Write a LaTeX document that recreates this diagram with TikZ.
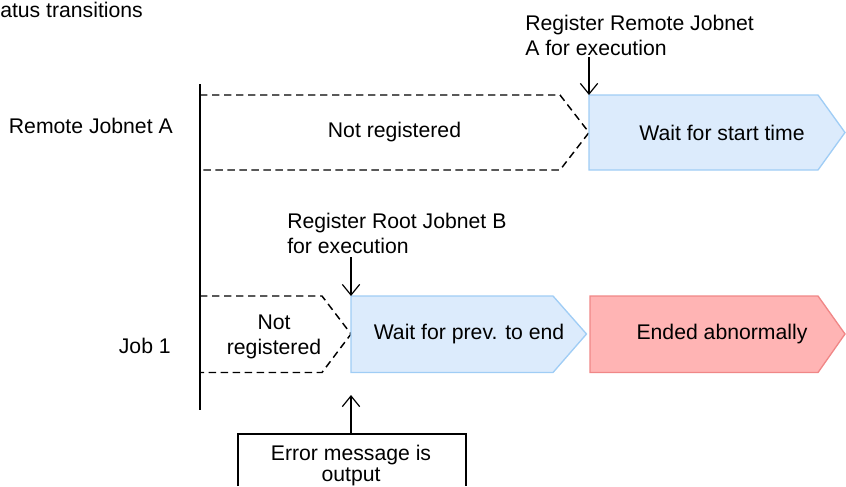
\documentclass[tikz,border=0pt]{standalone}
\usepackage{fontspec}
\setmainfont{Liberation Sans}
\usetikzlibrary{arrows.meta}
\definecolor{bfill}{RGB}{220,235,252}
\definecolor{bline}{RGB}{160,205,245}
\definecolor{rfill}{RGB}{255,180,180}
\definecolor{rline}{RGB}{240,135,135}
\begin{document}
\begin{tikzpicture}[x=0.75pt,y=-0.75pt,
  font=\fontsize{15.9}{18.75}\selectfont,
  dashbox/.style={draw=black, line width=1.1pt, dash pattern=on 5.5pt off 3.5pt},
  bluebox/.style={fill=bfill, draw=bline, line width=1pt},
  redbox/.style={fill=rfill, draw=rline, line width=1pt},
  arr/.style={-{Straight Barb[length=8pt,width=13pt]}, line width=0.9pt},
  lbl/.style={inner sep=0pt, align=center},
  axis/.style={line width=1.2pt}]
\useasboundingbox (0,0) rectangle (846,486);

% state shapes
\draw[dashbox] (200,95) -- (560,95) -- (589,132.5) -- (560,170) -- (200,170);
\draw[bluebox] (589,95) -- (818,95) -- (845,132.5) -- (818,170) -- (589,170) -- cycle;
\draw[dashbox] (200,296) -- (322,296) -- (351,334) -- (322,372.5) -- (200,372.5);
\draw[bluebox] (351,296) -- (553,296) -- (586.5,334) -- (553,372.5) -- (351,372.5) -- cycle;
\draw[redbox] (590,296) -- (818,296) -- (845,334) -- (818,372.5) -- (590,372.5) -- cycle;

% time axis
\coordinate (axtop) at (200,84);
\coordinate (axbot) at (200,410);
\draw[axis] (axtop) -- (axbot);

% labels
\node[anchor=base west, inner sep=0pt] (title) at (0,17) {atus transitions};
\node[anchor=base east, inner sep=0pt] (rja) at (173,133) {Remote Jobnet A};
\node[anchor=base east, inner sep=0pt] (job1) at (171,353) {Job 1};

\node[lbl] (nr1) at (394.5,132.5) {Not registered};
\node[lbl] (wst) at (722,132.5) {Wait for start time};
\node[lbl, anchor=north] (nr2) at (274,315) {Not\\registered};
\node[lbl] (wpe) at (469,334) {Wait for prev. to end};
\node[lbl] (ea) at (722,334) {Ended abnormally};

\node[lbl, align=left, anchor=north west] (reg1) at (525,15) {Register Remote Jobnet\\A for execution};
\node[lbl, align=left, anchor=north west] (reg2) at (287,213) {Register Root Jobnet B\\for execution};

% error message box (cut at bottom edge)
\node[lbl, anchor=north, font=\fontsize{15.9}{15.75}\selectfont] (err) at (351,445) {Error message is\\output};
\coordinate (errtop) at (351,434);
\draw[axis] (238,486) -- (238,434) -- (466,434) -- (466,486);

% arrows
\coordinate (a1s) at (589,57);
\coordinate (a1e) at (589,95);
\draw[arr] (a1s) -- (a1e);
\coordinate (a2s) at (351,257);
\coordinate (a2e) at (351,296);
\draw[arr] (a2s) -- (a2e);
\coordinate (a3e) at (351,395);
\draw[arr] (errtop) -- (a3e);
\end{tikzpicture}
\end{document}
